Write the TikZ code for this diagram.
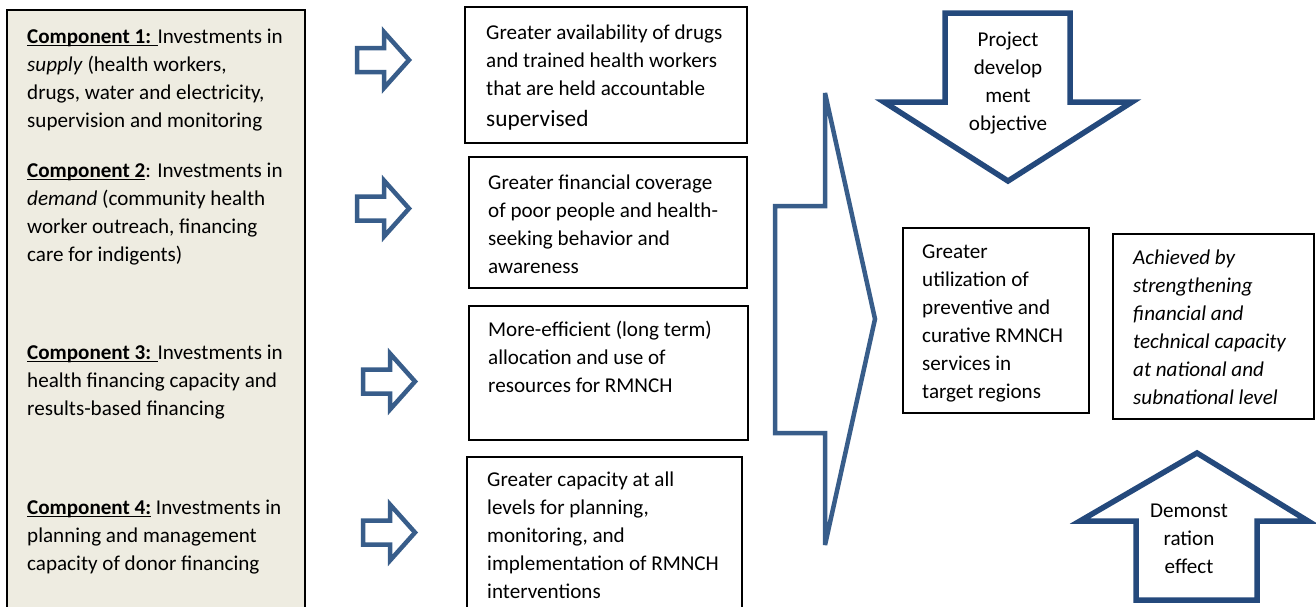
\documentclass[tikz,border=0pt]{standalone}
\usepackage{fontspec}
\setmainfont{Carlito}

% underline drawn as a rule below the boxed text
\newcommand\ulbox[1]{\leavevmode\setbox0\hbox{#1}\rlap{\rule[-3.2pt]{\wd0}{1.5pt}}\box0\relax}
% first-line strut: fixes the first baseline 19.6pt below the node top
\newcommand\topstrut{\rule{0pt}{19.6pt}}

\definecolor{panelfill}{HTML}{EEECE1}
\definecolor{arrowblue}{HTML}{385D8A}
\definecolor{deepblue}{HTML}{24497C}

\tikzset{
  txt/.style={font=\fontsize{21.1}{28}\selectfont, inner sep=0pt, anchor=north west,
              align=left},
  ctxt/.style={txt, anchor=north, align=center},
  box/.style={draw=black, line width=1.3pt, fill=white, anchor=north west,
              inner sep=0pt, outer sep=0pt},
  arrowline/.style={draw=arrowblue, line width=4.5pt, line join=miter, miter limit=4},
  bigarrow/.style={draw=deepblue, line width=5.5pt, line join=miter, miter limit=4, fill=white},
  rarrow/.pic={
    \path[arrowline] (0,-12) -- (27,-12) -- (27,-28) -- (52,0) -- (27,28) -- (27,12) -- (0,12) -- cycle;
  }
}

\begin{document}
\begin{tikzpicture}[x=1pt, y=-1pt]
\useasboundingbox (0,0) rectangle (1316,606);
\clip (0,0) rectangle (1316,606);

% component panel
\node[box, fill=panelfill, line width=2pt, minimum width=298pt, minimum height=620pt] (panel) at (7,10) {};
\node[txt] (c1) at (27,23.4) {\topstrut\ulbox{\textbf{Component 1:} }Investments in\\
  \textit{supply} (health workers,\\ drugs, water and electricity,\\ supervision and monitoring};
\node[txt] (c2) at (27,157.4) {\topstrut\ulbox{\textbf{Component 2}}: Investments in\\
  \textit{demand} (community health\\ worker outreach, financing\\ care for indigents)};
\node[txt] (c3) at (27,339.4) {\topstrut\ulbox{\textbf{Component 3:} }Investments in\\
  health financing capacity and\\ results-based financing};
\node[txt] (c4) at (27,494.4) {\topstrut\ulbox{\textbf{Component 4:}} Investments in\\
  planning and management\\ capacity of donor financing};

% small block arrows
\pic at (357,60) {rarrow};
\pic at (357,208.5) {rarrow};
\pic at (363,381.5) {rarrow};
\pic at (363,532.5) {rarrow};

% output boxes
\node[box, minimum width=282pt, minimum height=136pt] (o1) at (465,7) {};
\node[txt] (t1) at (486,19.4) {\topstrut Greater availability of drugs\\ and trained health workers\\
  that are held accountable\\[3pt] {\fontsize{23.3}{31}\selectfont supervised}};
\node[box, minimum width=278pt, minimum height=131pt] (o2) at (469,157) {};
\node[txt] (t2) at (488,169.4) {\topstrut Greater financial coverage\\ of poor people and health-\\
  seeking behavior and\\ awareness};
\node[box, minimum width=279pt, minimum height=134pt] (o3) at (469,306) {};
\node[txt] (t3) at (488,316.4) {\topstrut More-efficient (long term)\\ allocation and use of\\
  resources for RMNCH};
\node[box, minimum width=275pt, minimum height=170pt] (o4) at (467,457) {};
\node[txt] (t4) at (487,467) {\topstrut Greater capacity at all\\ levels for planning,\\
  monitoring, and\\ implementation of RMNCH\\ interventions};

% large chevron gathering the outputs
\path[arrowline] (825,93) -- (875,319) -- (825,545) -- (825,433) -- (775,433)
  -- (775,206) -- (825,206) -- cycle;

% outcome boxes
\node[box, minimum width=186pt, minimum height=185pt] (oc) at (903,228) {};
\node[txt] (toc) at (922,239) {\topstrut Greater\\ utilization of\\ preventive and\\
  curative RMNCH\\ services in\\ target regions};
\node[box, minimum width=201pt, minimum height=185pt] (ach) at (1113,234) {};
\node[txt, font=\fontsize{21.1}{28}\selectfont\itshape] (tach) at (1133,244.4) {\topstrut Achieved by\\
  strengthening\\ financial and\\ technical capacity\\ at national and\\ subnational level};

% objective arrow (down)
\path[bigarrow] (945,13) -- (1070,13) -- (1070,102) -- (1132,102) -- (1008,181)
  -- (884,102) -- (945,102) -- cycle;
\node[ctxt] (pdo) at (1008,26.4) {\topstrut Project\\ develop\\ ment\\ objective};

% demonstration arrow (up)
\path[bigarrow] (1197,453) -- (1308,521) -- (1257,521) -- (1257,600) -- (1136,600)
  -- (1136,521) -- (1080,521) -- cycle;
\node[ctxt] (demo) at (1189,497.4) {\topstrut Demonst\\ ration\\ effect};
\end{tikzpicture}
\end{document}
